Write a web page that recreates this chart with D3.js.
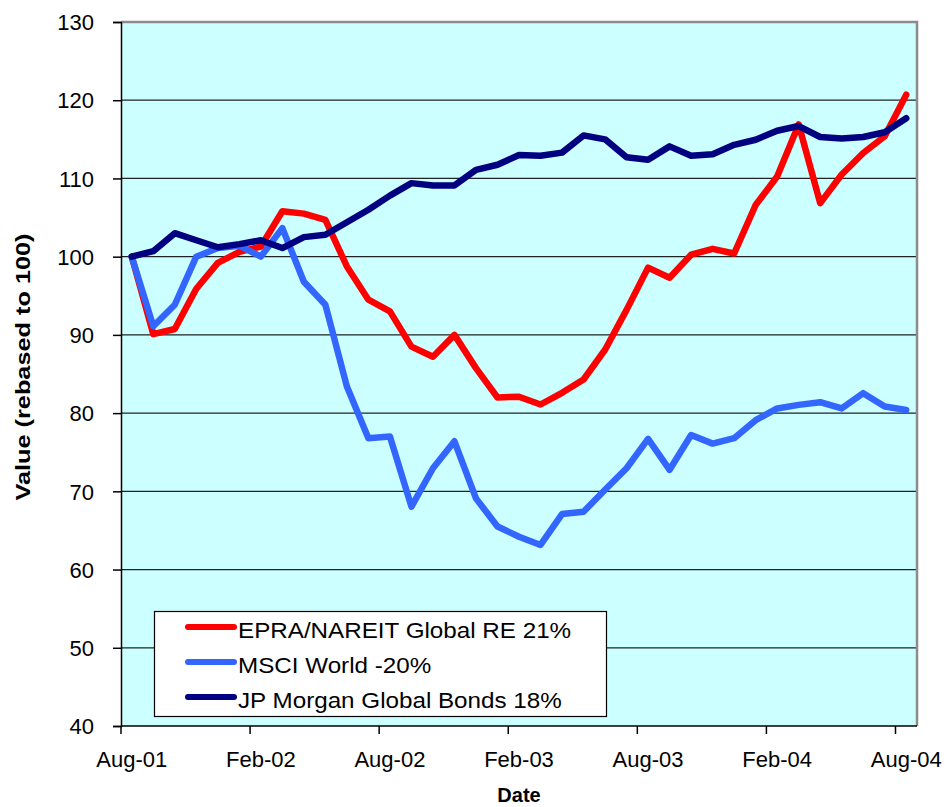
<!DOCTYPE html>
<meta charset="utf-8">
<script src="https://d3js.org/d3.v7.min.js"></script>
<style>
  body { margin: 0; background: #fff; }
  text { font-family: Arial, "Liberation Sans", sans-serif; fill: #000; }
</style>
<body>
<div id="chart"></div>
<script>
// monthly categories Aug-01 .. Aug-04
var months = ["Aug-01","Sep-01","Oct-01","Nov-01","Dec-01","Jan-02","Feb-02","Mar-02","Apr-02","May-02","Jun-02","Jul-02",
              "Aug-02","Sep-02","Oct-02","Nov-02","Dec-02","Jan-03","Feb-03","Mar-03","Apr-03","May-03","Jun-03","Jul-03",
              "Aug-03","Sep-03","Oct-03","Nov-03","Dec-03","Jan-04","Feb-04","Mar-04","Apr-04","May-04","Jun-04","Jul-04","Aug-04"];
var tickLabels = ["Aug-01","Feb-02","Aug-02","Feb-03","Aug-03","Feb-04","Aug-04"];
var yTicks = [40,50,60,70,80,90,100,110,120,130];

var epra = [100, 90.1, 90.75, 95.9, 99.2, 100.6, 101.3, 105.8, 105.5, 104.7, 98.75, 94.5,
            93.0, 88.5, 87.2, 90.0, 85.75, 82.0, 82.1, 81.1, 82.6, 84.3, 88.1, 93.2,
            98.6, 97.3, 100.25, 101.0, 100.4, 106.6, 110.25, 116.9, 106.85, 110.5, 113.25, 115.4, 120.7];
var msci = [100, 91.1, 93.85, 100.0, 101.1, 101.4, 100.0, 103.65, 96.8, 93.85, 83.4, 76.8,
            77.0, 68.05, 72.95, 76.4, 69.1, 65.5, 64.2, 63.15, 67.1, 67.4, 70.2, 72.95,
            76.7, 72.75, 77.2, 76.1, 76.8, 79.1, 80.6, 81.05, 81.4, 80.6, 82.55, 80.85, 80.4];
var jpm  = [100, 100.7, 103.0, 102.1, 101.2, 101.6, 102.1, 101.1, 102.5, 102.8, 104.4, 106.0,
            107.8, 109.4, 109.1, 109.1, 111.1, 111.75, 113.0, 112.9, 113.3, 115.5, 115.0, 112.7,
            112.4, 114.1, 112.9, 113.1, 114.3, 114.95, 116.1, 116.7, 115.3, 115.1, 115.3, 115.9, 117.7];

var seriesNames = ["EPRA/NAREIT Global RE 21%", "MSCI World -20%", "JP Morgan Global Bonds 18%"];
var seriesColors = ["#ff0000", "#3366ff", "#000080"];
var seriesValues = [epra, msci, jpm];

var W = 945, H = 807;
var pLeft = 121, pRight = 917, pTop = 22, pBottom = 726;

var svg = d3.select("#chart").append("svg")
    .attr("width", W).attr("height", H);

var x = d3.scaleBand().domain(months).range([pLeft, pRight]).padding(0);
var y = d3.scaleLinear().domain([40, 130]).range([pBottom, pTop]);

// plot background
svg.append("rect")
    .attr("x", pLeft).attr("y", pTop)
    .attr("width", pRight - pLeft).attr("height", pBottom - pTop)
    .attr("fill", "#ccffff");

// grid lines
svg.append("g").selectAll("line")
    .data(yTicks.filter(function(d) { return d > 40 && d < 130; }))
    .enter().append("line")
    .attr("x1", pLeft).attr("x2", pRight)
    .attr("y1", function(d) { return y(d); })
    .attr("y2", function(d) { return y(d); })
    .attr("stroke", "#222").attr("stroke-width", 1.2);

// top + right border (grey)
svg.append("path")
    .attr("d", "M" + pLeft + "," + pTop + "H" + pRight + "V" + pBottom)
    .attr("fill", "none").attr("stroke", "#8c8c8c").attr("stroke-width", 2.5);

// y axis
var yAxis = svg.append("g")
    .attr("transform", "translate(" + pLeft + ",0)")
    .call(d3.axisLeft(y).tickValues(yTicks).tickSize(8).tickPadding(19));
yAxis.select(".domain").attr("stroke", "#000").attr("stroke-width", 1.5);
yAxis.selectAll(".tick line").attr("stroke", "#000").attr("stroke-width", 1.5);
yAxis.selectAll("text").style("font-size", "22px").attr("dy", "0.35em")
    .attr("font-family", null);

// x axis: ticks at the start of every 6th month, labels centred on the month
var labelled = months.filter(function(m, i) { return i % 6 === 0; });
var xAxis = svg.append("g")
    .attr("transform", "translate(0," + pBottom + ")");
xAxis.append("line")
    .attr("x1", pLeft).attr("x2", pRight)
    .attr("stroke", "#000").attr("stroke-width", 1.5);
xAxis.selectAll(".xt").data(labelled).enter().append("line")
    .attr("class", "xt")
    .attr("x1", function(d) { return x(d); })
    .attr("x2", function(d) { return x(d); })
    .attr("y1", 0).attr("y2", 8)
    .attr("stroke", "#000").attr("stroke-width", 1.5);
xAxis.selectAll(".xl").data(labelled).enter().append("text")
    .attr("class", "xl")
    .attr("x", function(d) { return x(d) + x.bandwidth() / 2; })
    .attr("y", 41)
    .attr("text-anchor", "middle")
    .style("font-size", "22px")
    .text(function(d, i) { return tickLabels[i]; });

// axis titles
svg.append("text")
    .attr("transform", "translate(30,367)rotate(-90)")
    .attr("text-anchor", "middle")
    .style("font-size", "21px").style("font-weight", "bold")
    .text("Value (rebased to 100)")
    .attr("textLength", 267).attr("lengthAdjust", "spacingAndGlyphs");

svg.append("text")
    .attr("x", (pLeft + pRight) / 2).attr("y", 802)
    .attr("text-anchor", "middle")
    .style("font-size", "20px").style("font-weight", "bold")
    .text("Date");

// lines
var line = d3.line()
    .x(function(d, i) { return x(months[i]) + x.bandwidth() / 2; })
    .y(function(d) { return y(d); });

svg.append("g").selectAll("path")
    .data(seriesValues)
    .enter().append("path")
    .attr("d", line)
    .attr("fill", "none")
    .attr("stroke", function(d, i) { return seriesColors[i]; })
    .attr("stroke-width", 6.5)
    .attr("stroke-linejoin", "round")
    .attr("stroke-linecap", "round");

// legend
var lg = svg.append("g");
lg.append("rect")
    .attr("x", 154.5).attr("y", 611.5)
    .attr("width", 452).attr("height", 105)
    .attr("fill", "#fff").attr("stroke", "#000").attr("stroke-width", 1.2);

var rows = lg.selectAll(".row").data(seriesNames).enter().append("g")
    .attr("class", "row")
    .attr("transform", function(d, i) { return "translate(0," + (627 + i * 35) + ")"; });
rows.append("line")
    .attr("x1", 188).attr("x2", 234)
    .attr("stroke", function(d, i) { return seriesColors[i]; })
    .attr("stroke-width", 6).attr("stroke-linecap", "round");
rows.append("text")
    .attr("x", 238).attr("y", 10.5)
    .style("font-size", "22px")
    .text(function(d) { return d; })
    .attr("textLength", function() { return this.getComputedTextLength() * 1.1; })
    .attr("lengthAdjust", "spacingAndGlyphs");
</script>
</body>
